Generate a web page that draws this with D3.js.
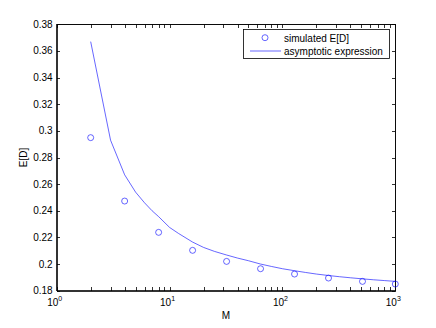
<!DOCTYPE html>
<html>
<head>
<meta charset="utf-8">
<script src="https://cdn.jsdelivr.net/npm/d3@7"></script>
<style>
  body { margin: 0; background: #fff; }
  svg text { font-family: "Liberation Sans", Arial, Helvetica, sans-serif; font-size: 10px; fill: #000; }
  .axis path, .axis line { stroke: #000; stroke-width: 0.8; shape-rendering: crispEdges; }
</style>
</head>
<body>
<div id="chart"></div>
<script>
// simulated points
var simM = [2, 4, 8, 16, 32, 64, 128, 256, 512, 1000];
var simED = [0.2949, 0.2473, 0.2238, 0.2103, 0.2020, 0.1965, 0.1925, 0.1895, 0.1870, 0.1850];

// asymptotic expression curve
var asyM = [2, 3, 4, 5, 6, 7, 8, 10, 12, 16, 20, 25, 32, 40, 50, 64, 80, 100, 128, 160, 200, 256, 320, 400, 512, 640, 800, 1000];
var asyED = [0.367, 0.293, 0.267, 0.254, 0.246, 0.240, 0.2356, 0.2275, 0.2230, 0.2165, 0.2125, 0.2095, 0.2068, 0.2045,
  0.2025, 0.2000, 0.1982, 0.1965, 0.1950, 0.1937, 0.1925, 0.1914, 0.1905, 0.1897, 0.1889, 0.1882, 0.1876, 0.1870];

var xTicks = [1, 10, 100, 1000];
var xExp = ['0', '1', '2', '3'];
var yTicks = [0.18, 0.2, 0.22, 0.24, 0.26, 0.28, 0.3, 0.32, 0.34, 0.36, 0.38];
var yTickLabels = ['0.18', '0.2', '0.22', '0.24', '0.26', '0.28', '0.3', '0.32', '0.34', '0.36', '0.38'];
var legendLabels = ['simulated E[D]', 'asymptotic expression'];

var W = 436, H = 328;
var margin = { left: 56.7, right: 395.3, top: 24.3, bottom: 290.7 };
var blue = '#0000ff';

var svg = d3.select('#chart').append('svg')
  .attr('width', W)
  .attr('height', H);

var x = d3.scaleLog().domain([1, 1000]).range([margin.left, margin.right]);
var y = d3.scaleLinear().domain([0.18, 0.38]).range([margin.bottom, margin.top]);

// minor ticks for log axis
var minor = [];
[1, 10, 100].forEach(function(d) {
  for (var k = 2; k <= 9; k++) minor.push(d * k);
});
var allX = xTicks.concat(minor);

// box
svg.append('rect')
  .attr('x', margin.left).attr('y', margin.top)
  .attr('width', margin.right - margin.left).attr('height', margin.bottom - margin.top)
  .attr('fill', 'none').attr('stroke', '#000').attr('stroke-width', 0.8)
  .attr('shape-rendering', 'crispEdges');

// x axes (bottom and top), ticks inward
svg.append('g').attr('class', 'axis')
  .attr('transform', 'translate(0,' + margin.bottom + ')')
  .call(d3.axisBottom(x).tickValues(allX).tickSize(-3.5).tickSizeOuter(0).tickFormat(''));
svg.append('g').attr('class', 'axis')
  .attr('transform', 'translate(0,' + margin.top + ')')
  .call(d3.axisTop(x).tickValues(allX).tickSize(-3.5).tickSizeOuter(0).tickFormat(''));

// y axes (left and right)
svg.append('g').attr('class', 'axis')
  .attr('transform', 'translate(' + margin.left + ',0)')
  .call(d3.axisLeft(y).tickValues(yTicks).tickSize(-3.5).tickSizeOuter(0).tickFormat(''));
svg.append('g').attr('class', 'axis')
  .attr('transform', 'translate(' + margin.right + ',0)')
  .call(d3.axisRight(y).tickValues(yTicks).tickSize(-3.5).tickSizeOuter(0).tickFormat(''));

// y tick labels
svg.selectAll('.ylab')
  .data(yTicks)
  .enter()
  .append('text')
  .attr('class', 'ylab')
  .attr('x', margin.left - 4)
  .attr('y', function(d) { return y(d); })
  .attr('dy', '0.35em')
  .attr('text-anchor', 'end')
  .text(function(d, i) { return yTickLabels[i]; });

// x tick labels as 10^k
var xl = svg.selectAll('.xlab')
  .data(xTicks)
  .enter()
  .append('text')
  .attr('class', 'xlab')
  .attr('x', function(d) { return x(d) - 2; })
  .attr('y', margin.bottom + 15)
  .attr('text-anchor', 'middle');
xl.append('tspan').text('10');
xl.append('tspan')
  .attr('dy', -5)
  .style('font-size', '7px')
  .text(function(d, i) { return xExp[i]; });

// axis titles
svg.append('text')
  .attr('x', (margin.left + margin.right) / 2)
  .attr('y', 319)
  .attr('text-anchor', 'middle')
  .text('M');
svg.append('text')
  .attr('transform', 'translate(27,' + ((margin.top + margin.bottom) / 2) + ') rotate(-90)')
  .attr('text-anchor', 'middle')
  .text('E[D]');

// asymptotic curve
var line = d3.line()
  .x(function(d, i) { return x(asyM[i]); })
  .y(function(d) { return y(d); });
svg.append('path')
  .datum(asyED)
  .attr('d', line)
  .attr('fill', 'none')
  .attr('stroke', blue)
  .attr('stroke-width', 0.6);

// simulated markers
svg.selectAll('.pt')
  .data(simED)
  .enter()
  .append('circle')
  .attr('class', 'pt')
  .attr('cx', function(d, i) { return x(simM[i]); })
  .attr('cy', function(d) { return y(d); })
  .attr('r', 3)
  .attr('fill', 'none')
  .attr('stroke', blue)
  .attr('stroke-width', 0.6);

// legend
var lg = svg.append('g');
lg.append('rect')
  .attr('x', 243.5).attr('y', 29.5)
  .attr('width', 146).attr('height', 29)
  .attr('fill', '#fff').attr('stroke', '#000').attr('stroke-width', 0.8);
lg.append('circle')
  .attr('cx', 265).attr('cy', 37.7).attr('r', 3)
  .attr('fill', 'none').attr('stroke', blue).attr('stroke-width', 0.6);
lg.append('line')
  .attr('x1', 250).attr('x2', 281).attr('y1', 51).attr('y2', 51)
  .attr('stroke', blue).attr('stroke-width', 0.6);
lg.selectAll('.lgt')
  .data(legendLabels)
  .enter()
  .append('text')
  .attr('class', 'lgt')
  .attr('x', 284)
  .attr('y', function(d, i) { return 38 + i * 13.3; })
  .attr('dy', '0.35em')
  .text(function(d) { return d; });
</script>
</body>
</html>
